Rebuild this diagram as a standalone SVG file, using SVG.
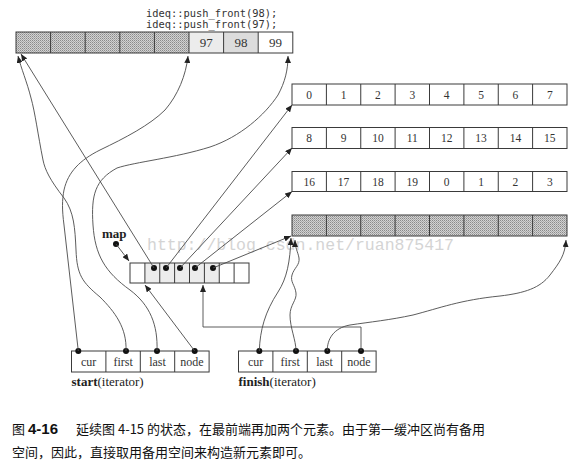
<svg xmlns="http://www.w3.org/2000/svg" width="583" height="471" viewBox="0 0 583 471">
<style>
.box{fill:none;stroke:#3a3a3a;stroke-width:1}
.st{fill:url(#stip);stroke:#3a3a3a;stroke-width:1}
.l1{fill:#ececec}
.l2{fill:#dcdcdc}
.wh{fill:#fff}
.num{font-family:"Liberation Serif",serif;font-size:11.5px;fill:#333;text-anchor:middle}
.num2{font-family:"Liberation Serif",serif;font-size:13px;fill:#333;text-anchor:middle}
.lab{font-family:"Liberation Serif",serif;font-size:12px;fill:#333;text-anchor:middle}
.cap{font-family:"Liberation Serif",serif;font-size:13px;fill:#222}
.code{font-family:"DejaVu Sans Mono",monospace;font-size:10.4px;fill:#333}
.zh{font-family:"Noto Sans CJK SC",sans-serif;font-size:13px;fill:#111}
.wm{font-family:"Liberation Mono",monospace;font-size:16.5px;fill:#d4d4d4}
.c{fill:none;stroke:#4a4a4a;stroke-width:0.9}
.dot{fill:#111}
</style>
<defs>
<pattern id="stip" width="2" height="2" patternUnits="userSpaceOnUse">
<rect width="2" height="2" fill="#d2d2d2"/>
<rect width="1" height="1" fill="#8a8a8a"/>
<rect x="1" y="1" width="1" height="1" fill="#a8a8a8"/>
</pattern>
<marker id="ah" markerWidth="7" markerHeight="6" refX="7" refY="3" orient="auto" markerUnits="userSpaceOnUse">
<path d="M0,0 L7,3 L0,6 z" fill="#222"/>
</marker>
</defs>
<rect width="583" height="471" fill="#fff"/>

<text class="wm" x="147" y="250">http://blog.csdn.net/ruan875417</text>

<g id="code">
<text class="code" x="146" y="17">ideq::push_front(98);</text>
<text class="code" x="146" y="28">ideq::push_front(97);</text>
</g>

<g id="buf-top">
<rect x="16" y="32" width="173" height="21" fill="url(#stip)"/>
<rect class="l1" x="189" y="32" width="34.6" height="21"/>
<rect class="l2" x="223.6" y="32" width="34.6" height="21"/>
<rect class="wh" x="258.2" y="32" width="34.6" height="21"/>
<rect class="box" x="16" y="32" width="276.8" height="21"/>
<path class="box" d="M50.6,32V53M85.2,32V53M119.8,32V53M154.4,32V53M189,32V53M223.6,32V53M258.2,32V53"/>
<text class="num2" x="206.3" y="47">97</text>
<text class="num2" x="240.9" y="47">98</text>
<text class="num2" x="275.5" y="47">99</text>
</g>

<g id="buf-0">
<rect class="box" x="292" y="84" width="275" height="21"/>
<path class="box" d="M326.4,84v21M360.75,84v21M395.1,84v21M429.5,84v21M463.9,84v21M498.25,84v21M532.6,84v21"/>
<text class="num" x="309.2" y="98.5">0</text><text class="num" x="343.6" y="98.5">1</text><text class="num" x="377.9" y="98.5">2</text><text class="num" x="412.3" y="98.5">3</text><text class="num" x="446.7" y="98.5">4</text><text class="num" x="481.1" y="98.5">5</text><text class="num" x="515.4" y="98.5">6</text><text class="num" x="549.8" y="98.5">7</text>
</g>

<g id="buf-1">
<rect class="box" x="292" y="127.5" width="275" height="21"/>
<path class="box" d="M326.4,127.5v21M360.75,127.5v21M395.1,127.5v21M429.5,127.5v21M463.9,127.5v21M498.25,127.5v21M532.6,127.5v21"/>
<text class="num" x="309.2" y="142">8</text><text class="num" x="343.6" y="142">9</text><text class="num" x="377.9" y="142">10</text><text class="num" x="412.3" y="142">11</text><text class="num" x="446.7" y="142">12</text><text class="num" x="481.1" y="142">13</text><text class="num" x="515.4" y="142">14</text><text class="num" x="549.8" y="142">15</text>
</g>

<g id="buf-2">
<rect class="box" x="292" y="171.5" width="275" height="20"/>
<path class="box" d="M326.4,171.5v20M360.75,171.5v20M395.1,171.5v20M429.5,171.5v20M463.9,171.5v20M498.25,171.5v20M532.6,171.5v20"/>
<text class="num" x="309.2" y="186">16</text><text class="num" x="343.6" y="186">17</text><text class="num" x="377.9" y="186">18</text><text class="num" x="412.3" y="186">19</text><text class="num" x="446.7" y="186">0</text><text class="num" x="481.1" y="186">1</text><text class="num" x="515.4" y="186">2</text><text class="num" x="549.8" y="186">3</text>
</g>

<g id="buf-3">
<rect class="st" x="292" y="215" width="275" height="21"/>
<path class="box" d="M326.4,215v21M360.75,215v21M395.1,215v21M429.5,215v21M463.9,215v21M498.25,215v21M532.6,215v21"/>
</g>

<g id="map">
<text x="102" y="238" font-family="Liberation Serif,serif" font-size="13" font-weight="bold" fill="#222">map</text>
<circle class="dot" cx="116" cy="244" r="3"/>
<rect class="l1" x="144.9" y="263" width="74.4" height="20"/>
<rect class="box" x="130" y="263" width="119" height="20"/>
<path class="box" d="M144.9,263v20M159.75,263v20M174.6,263v20M189.5,263v20M204.4,263v20M219.25,263v20M234.1,263v20"/>
<circle class="dot" cx="154" cy="268" r="3"/>
<circle class="dot" cx="166" cy="268" r="3"/>
<circle class="dot" cx="180" cy="268" r="3"/>
<circle class="dot" cx="195" cy="268" r="3"/>
<circle class="dot" cx="213" cy="268" r="3"/>
</g>

<g id="start">
<rect class="box" x="71.5" y="351" width="137.6" height="21"/>
<path class="box" d="M105.9,351v21M140.3,351v21M174.7,351v21"/>
<text class="lab" x="88.7" y="366">cur</text>
<text class="lab" x="123.1" y="366">first</text>
<text class="lab" x="157.5" y="366">last</text>
<text class="lab" x="191.9" y="366">node</text>
<circle class="dot" cx="78.3" cy="351" r="3"/>
<circle class="dot" cx="126" cy="351" r="3"/>
<circle class="dot" cx="157" cy="351" r="3"/>
<circle class="dot" cx="194.7" cy="351" r="3"/>
<text class="cap" x="71.5" y="386"><tspan font-weight="bold">start</tspan>(iterator)</text>
</g>

<g id="finish">
<rect class="box" x="238.5" y="351" width="137.6" height="21"/>
<path class="box" d="M272.9,351v21M307.3,351v21M341.7,351v21"/>
<text class="lab" x="255.7" y="366">cur</text>
<text class="lab" x="290.1" y="366">first</text>
<text class="lab" x="324.5" y="366">last</text>
<text class="lab" x="358.9" y="366">node</text>
<circle class="dot" cx="259.3" cy="351" r="3"/>
<circle class="dot" cx="296" cy="351" r="3"/>
<circle class="dot" cx="327.3" cy="351" r="3"/>
<circle class="dot" cx="361" cy="351" r="3"/>
<text class="cap" x="238.5" y="386"><tspan font-weight="bold">finish</tspan>(iterator)</text>
</g>

<g id="connectors">
<path class="c" marker-end="url(#ah)" d="M116,244 L129,261"/>
<path class="c" marker-end="url(#ah)" d="M154,268 L21,54"/>
<path class="c" marker-end="url(#ah)" d="M166,268 L292,105"/>
<path class="c" marker-end="url(#ah)" d="M180,268 L292,148"/>
<path class="c" marker-end="url(#ah)" d="M195,268 L292,191.5"/>
<path class="c" marker-end="url(#ah)" d="M213,268 L291,236"/>
<path class="c" marker-end="url(#ah)" d="M78.3,351 L64,225 C62,210 62,200 64,190 C68,172 80,160 100,150 C125,138 150,125 165,110 C178,95 186,75 188,56"/>
<path class="c" marker-end="url(#ah)" d="M126,351 C127,328 115,312 100,297 C82,282 77,275 76,250 C75,228 74,212 64,198 C50,180 45,170 43,160 C38,135 35,112 31,98 C27,82 21,68 18,56"/>
<path class="c" marker-end="url(#ah)" d="M157,351 C158,325 150,305 130,290 C105,272 95,255 93,225 C91,195 95,180 117,168 C135,162 175,158 210,147 C240,137 265,115 278,95 C285,82 288,70 288,56"/>
<path class="c" marker-end="url(#ah)" d="M194.7,351 L145,285"/>
<path class="c" marker-end="url(#ah)" d="M259.3,351 C260,330 265,312 278,292 C287,278 290,262 291,238"/>
<path class="c" marker-end="url(#ah)" d="M296,351 C296,340 290,328 290,315 C290,305 297,300 296,293 C295,285 290,282 292,275 C294,268 300,265 299,258 C298,252 295,248 295,240"/>
<path class="c" marker-end="url(#ah)" d="M327.3,351 C327,340 333,328 350,325 C370,322 390,320 413,315 C440,308 460,300 500,296 C525,293 540,288 550,275 C560,262 565,255 566,240"/>
<path class="c" marker-end="url(#ah)" d="M361,351 L361,327 L203,327 L203,285"/>
</g>

<g id="caption">
<text class="zh" x="12" y="434">图<tspan x="28" font-family="Liberation Sans,sans-serif" font-weight="bold" font-size="15">4-16</tspan><tspan x="76">延续图 4-15 的状态，在最前端再加两个元素。由于第一缓冲区尚有备用</tspan></text>
<text class="zh" x="12" y="457">空间，因此，直接取用备用空间来构造新元素即可。</text>
</g>
</svg>
